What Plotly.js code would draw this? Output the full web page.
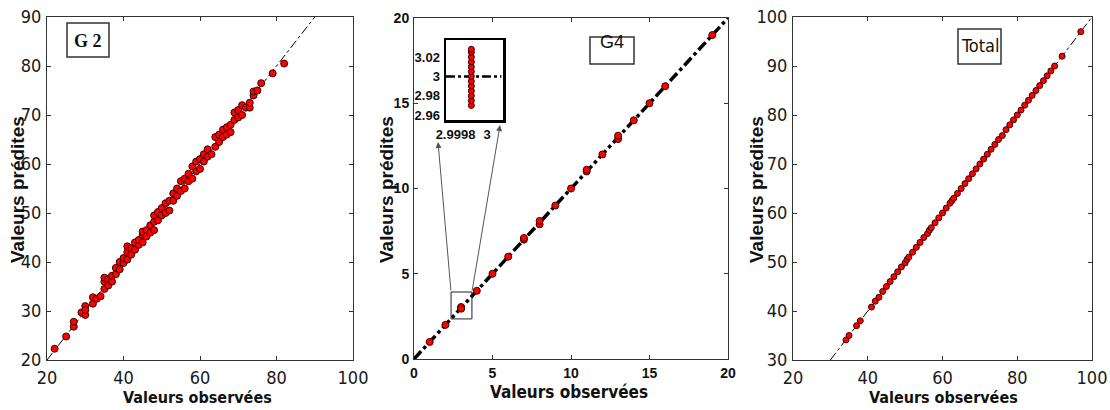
<!DOCTYPE html>
<html><head><meta charset="utf-8">
<script src="https://cdn.plot.ly/plotly-3.0.1.min.js"></script>
<style>body{margin:0;background:#fff}#c{width:1110px;height:410px}</style>
</head><body><div id="c"></div>
<script>
// ---- G2 panel data ----
const g2Obs = [22,25,27,27,29,30,30,30,32,32,33,34,35,35,35,36,36,37,37,38,38,39,39,40,40,41,41,41,42,42,43,43,44,44,45,45,45,46,46,47,47,48,48,48,49,49,50,50,51,51,52,52,53,53,54,54,55,55,56,56,57,57,58,58,59,59,60,60,61,61,62,62,63,64,64,65,65,66,66,67,67,68,68,69,69,70,70,71,71,72,73,73,74,74,75,76,79,82];
const g2Pred = [22.3,24.8,26.8,27.8,29.7,29.2,31,30.2,31.5,32.8,32.5,33,34.5,36,36.8,35.2,36.5,36,37.2,37.5,38.8,38.5,40,39.8,40.8,40.5,42,43.2,41.5,42.8,42.5,44,43.5,44.5,44,45.5,46.2,45.2,46.5,46,47.5,46.5,48.2,49.5,48.5,50.2,49.5,51,50,52,50.5,52.5,52.5,54,53.5,55,54.5,56.5,55,57,56.5,58,57,59.5,58.5,60.5,59,61,60.5,62,61.5,63,62,63.5,65.5,64.5,66,65.5,67,66,67.5,66.5,68,69,70.5,69.5,71,70,72,71.5,71.5,72.5,74,74.8,75,76.5,78.5,80.5];
const g2Line = [20,90];

// ---- G4 panel data ----
const g4Obs = [1,2,3,3,3,4,5,6,7,7,8,8,9,10,11,11,12,13,13,14,15,16,19];
const g4Pred = [1,2,3,3.05,2.95,4,5,6,7,7.1,7.9,8.1,9,10,11,11.1,12,12.9,13.1,14,15,16,19];
const g4Line = [0,20];
// inset (zoom on observed value 3)
const insetObs = [2.9999,2.9999,2.9999,2.9999,2.9999,2.9999,2.9999,2.9999,2.9999,2.9999,2.9999,2.9999,2.9999];
const insetPred = [2.970,2.975,2.980,2.985,2.990,2.995,3.000,3.005,3.010,3.015,3.020,3.025,3.028];
const insetLineX = [2.99974,3.00009];
const insetLineY = [3,3];
const insetTickVals = [2.9998,3];
const insetTickText = ['2.9998','3'];
const insetYTicks = [2.96,2.98,3,3.02];
const insetYText = ['2.96','2.98','3','3.02'];

// ---- Total panel data ----
const totObs = [34.2,35,37,38,41,42,43,44,45,46,47,48,49,50,50.5,51,52,53,54,55,56,56.5,57,58,59,60,61,62,62.5,63,64,65,66,67,68,69,70,71,72,73,74,75,76,77,78,79,80,81,82,83,84,85,86,87,88,89,90,92,97];
const totPred = [34.1,35,37,38,40.8,42,42.8,44,45,46,47,48,49,49.8,50.5,51,52,53,54,55,55.8,56.5,57,58,59,60,61,62,62.5,63,64,65,66,67,68,69,70,71,72,73,74,75,75.8,77,78,79,80,81,82,83,84,85,86,87,88,89,90,92,97];
const totLine = [30,100];

const titleY = 'Valeurs prédites';
const titleX = 'Valeurs observées';
const labels = ['G 2','G4','Total'];

const W=1110,H=410;
const px = v=>v/W, py = v=>1-v/H;
const narrow = '"DejaVu Sans Condensed","Liberation Sans Narrow","Arial Narrow",Arial,sans-serif';
const arial = 'Arial,"Liberation Sans",sans-serif';

const mk = (size)=>({symbol:'circle',size:size,color:'#ff0000',line:{color:'#3a0000',width:1}});

const traces = [
  {x:g2Line,y:g2Line,mode:'lines',line:{color:'#000',width:1,dash:'dashdot'},xaxis:'x',yaxis:'y',hoverinfo:'skip'},
  {x:g2Obs,y:g2Pred,mode:'markers',marker:mk(7),xaxis:'x',yaxis:'y'},
  {x:g4Line,y:g4Line,mode:'lines',line:{color:'#000',width:3.5,dash:'dashdot'},xaxis:'x2',yaxis:'y2'},
  {x:g4Obs,y:g4Pred,mode:'markers',marker:mk(7),xaxis:'x2',yaxis:'y2'},
  {x:totLine,y:totLine,mode:'lines',line:{color:'#000',width:1,dash:'dashdot'},xaxis:'x3',yaxis:'y3'},
  {x:totObs,y:totPred,mode:'markers',marker:mk(6),xaxis:'x3',yaxis:'y3'},
  {x:insetLineX,y:insetLineY,mode:'lines',line:{color:'#000',width:2.5,dash:'dashdot'},xaxis:'x4',yaxis:'y4'},
  {x:insetObs,y:insetPred,mode:'markers',marker:mk(6),xaxis:'x4',yaxis:'y4'}
];

const ax = (dom,range,dtick,font,anchor)=>({domain:dom,range:range,dtick:dtick,tick0:0,anchor:anchor,
  showgrid:false,zeroline:false,showline:true,linecolor:'#333',linewidth:1,mirror:'ticks',
  ticks:'inside',ticklen:4,tickcolor:'#333',tickfont:font,fixedrange:true,ticklabelstandoff:1});

const fNarrow = {family:narrow,size:18,color:'#1a1a1a'};
const fBold = {family:arial,size:14,color:'#111',weight:'bold'};

const ann = (x,y,text,font,extra)=>Object.assign({xref:'paper',yref:'paper',x:px(x),y:py(y),xanchor:'center',yanchor:'middle',text:text,showarrow:false,font:font},extra||{});

const layout = {
  width:W,height:H,margin:{l:0,r:0,t:0,b:0},showlegend:false,
  paper_bgcolor:'#fff',plot_bgcolor:'#fff',
  xaxis: ax([px(47),px(353)],[20,100],20,fNarrow,'y'),
  yaxis: ax([py(360),py(17)],[20,90],10,fNarrow,'x'),
  xaxis2: ax([px(414),px(728)],[0,20],5,fBold,'y2'),
  yaxis2: ax([py(359),py(18)],[0,20],5,fBold,'x2'),
  xaxis3: ax([px(793),px(1092)],[20,100],20,fNarrow,'y3'),
  yaxis3: ax([py(360),py(17)],[30,100],10,fNarrow,'x3'),
  xaxis4: Object.assign(ax([px(446),px(503)],[2.99974,3.0001],null,{family:arial,size:13,color:'#111',weight:'bold'},'y4'),
           {tickvals:insetTickVals,ticktext:insetTickText,linewidth:2.5,linecolor:'#000',ticklen:0}),
  yaxis4: Object.assign(ax([py(120),py(40)],[2.955,3.0376],null,{family:arial,size:13,color:'#111',weight:'bold'},'x4'),
           {tickvals:insetYTicks,ticktext:insetYText,linewidth:2.5,linecolor:'#000',ticklen:0}),
  shapes:[
    {type:'rect',xref:'x2',yref:'y2',x0:2.36,x1:3.69,y0:2.35,y1:3.93,line:{color:'#222',width:1}},
    {type:'rect',xref:'paper',yref:'paper',x0:px(67),x1:px(109),y0:py(57),y1:py(23),line:{color:'#333',width:1.5},fillcolor:'#fff'},
    {type:'rect',xref:'paper',yref:'paper',x0:px(590),x1:px(634),y0:py(64),y1:py(37),line:{color:'#333',width:1.5}},
    {type:'rect',xref:'paper',yref:'paper',x0:px(958),x1:px(1001),y0:py(64),y1:py(29),line:{color:'#333',width:1.5},fillcolor:'#fff'}
  ],
  annotations:[
    ann(88,41,'<b>'+labels[0]+'</b>',{family:'"Liberation Serif","Times New Roman",serif',size:18,color:'#111'}),
    ann(612,42,labels[1],{family:arial,size:18,color:'#111'}),
    ann(980,46,labels[2],{family:narrow,size:18,color:'#111'}),
    // y titles
    ann(17,190,'<b>'+titleY+'</b>',{family:arial,size:19,color:'#111'},{textangle:-90}),
    ann(386,190,'<b>'+titleY+'</b>',{family:arial,size:19,color:'#111'},{textangle:-90}),
    ann(756,190,'<b>'+titleY+'</b>',{family:arial,size:19,color:'#111'},{textangle:-90}),
    // x titles
    ann(197,397,titleX,{family:narrow,size:16,color:'#111',weight:'bold'}),
    ann(569,392,titleX,{family:narrow,size:17,color:'#111',weight:'bold'}),
    ann(943,397,titleX,{family:narrow,size:16,color:'#111',weight:'bold'}),
    // arrows from zoom box to inset
    {xref:'x2',yref:'y2',axref:'x2',ayref:'y2',x:1.53,y:12.73,ax:2.36,ay:3.93,text:'',showarrow:true,arrowhead:2,arrowsize:1.2,arrowwidth:1,arrowcolor:'#555'},
    {xref:'x2',yref:'y2',axref:'x2',ayref:'y2',x:5.48,y:13.72,ax:3.69,ay:3.93,text:'',showarrow:true,arrowhead:2,arrowsize:1.2,arrowwidth:1,arrowcolor:'#555'}
  ]
};
Plotly.newPlot('c',traces,layout,{staticPlot:true});
</script></body></html>
